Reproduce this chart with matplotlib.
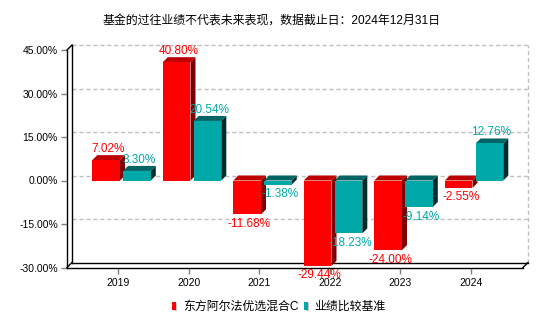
import matplotlib
matplotlib.use("Agg")
import matplotlib.pyplot as plt
from matplotlib.patches import Polygon, Rectangle

plt.rcParams['font.family'] = ['Liberation Sans', 'Noto Sans CJK SC', 'DejaVu Sans']

title = "基金的过往业绩不代表未来表现，数据截止日：2024年12月31日"
categories = ["2019", "2020", "2021", "2022", "2023", "2024"]
fund_name = "东方阿尔法优选混合C"
bench_name = "业绩比较基准"
fund_values = [7.02, 40.80, -11.68, -29.44, -24.00, -2.55]
bench_values = [3.30, 20.54, -1.38, -18.23, -9.14, 12.76]
yticks = [45, 30, 15, 0, -15, -30]
ytick_labels = ["45.00%", "30.00%", "15.00%", "0.00%", "-15.00%", "-30.00%"]

RED = ("#FF0000", "#BE0000", "#7F0000")
TEAL = ("#00A8A8", "#006464", "#002C2C")

fig = plt.figure(figsize=(5.6, 3.3), dpi=100)
W, H = 560, 330
L, R, T, B = 67, 523, 50, 267.5
ax = fig.add_axes([L / W, (H - B) / H, (R - L) / W, (B - T) / H])
ymin, ymax = -30, 45
spacing = 70.5
x0 = -(118.3 - L) / spacing
x1 = x0 + (R - L) / spacing
ax.set_xlim(x0, x1)
ax.set_ylim(ymin, ymax)
for s in ax.spines.values():
    s.set_visible(False)

ppy = (B - T) / (ymax - ymin)
dx = 5 / spacing
dy = 5 / ppy

# back wall grid
for v in yticks[:-1]:
    ax.plot([x0 + dx, x1 + dx], [v + dy, v + dy], color="#C0C0C0", lw=1,
            ls=(0, (3, 2)), clip_on=False, zorder=1)
ax.plot([x1 + dx, x1 + dx], [ymin + dy, ymax + dy], color="#C0C0C0", lw=1,
        ls=(0, (3, 2)), clip_on=False, zorder=1)
# frame lines
k = dict(color="black", lw=1, clip_on=False, zorder=2)
ax.plot([x0, x0], [ymin, ymax], **k)
ax.plot([x0 + dx, x0 + dx], [ymin + dy, ymax + dy], **k)
ax.plot([x0, x0 + dx], [ymax, ymax + dy], **k)
ax.plot([x0, x1], [ymin, ymin], **k)
ax.plot([x0 + dx, x1 + dx], [ymin + dy, ymin + dy], **k)
ax.plot([x0, x0 + dx], [ymin, ymin + dy], **k)
ax.plot([x1, x1 + dx], [ymin, ymin + dy], **k)


def bar3d(x_left, x_right, v, cols):
    front, top, side = cols
    if v >= 0:
        ytop = v
        lo, hi = 0, v
    else:
        ytop = 0
        lo, hi = v, 0
    ax.add_patch(Polygon([(x_right, lo), (x_right, hi), (x_right + dx, hi + dy),
                          (x_right + dx, lo + dy)], closed=True, facecolor=side,
                         edgecolor="none", zorder=3, clip_on=False))
    ax.add_patch(Polygon([(x_left, ytop), (x_right, ytop), (x_right + dx, ytop + dy),
                          (x_left + dx, ytop + dy)], closed=True, facecolor=top,
                         edgecolor="none", zorder=3, clip_on=False))
    ax.add_patch(Rectangle((x_left, lo), x_right - x_left, hi - lo, facecolor=front,
                           edgecolor="none", zorder=3, clip_on=False))


def label(xc, v, color):
    if v >= 0:
        off = 8
    else:
        off = -12.5
    ax.annotate(f"{v:.2f}%", xy=(xc, v), xytext=(2, off), textcoords="offset pixels",
                ha="center", va="baseline", fontsize=8.5, color=color, zorder=5,
                annotation_clip=False)


for i, (fv, bv) in enumerate(zip(fund_values, bench_values)):
    rl, rr = i - 0.369, i + 0.024
    tl, tr = i + 0.068, i + 0.461
    bar3d(rl, rr, fv, RED)
    bar3d(tl, tr, bv, TEAL)

for i, (fv, bv) in enumerate(zip(fund_values, bench_values)):
    label((i - 0.369 + i + 0.024) / 2, fv, "#FF0000")
    label((i + 0.068 + i + 0.461) / 2, bv, "#00A8A8")

ax.set_yticks(yticks)
ax.set_yticklabels(ytick_labels)
ax.set_xticks(range(len(categories)))
ax.set_xticklabels(categories)
ax.tick_params(axis="y", length=4, width=1, color="#808080", pad=2.6, labelsize=7.5)
ax.tick_params(axis="x", length=4, width=1, color="#808080", pad=3.6, labelsize=7.5)

fig.text(272 / W, 1 - 21 / H, title, ha="center", va="center", fontsize=8.6,
         color="black")

# legend
def leg_item(xs, text, color):
    fig.patches.append(Rectangle(((xs + 1.5) / W, 1 - 311 / H), 3.5 / W, 8 / H,
                                 transform=fig.transFigure, facecolor="#C8C8C8",
                                 edgecolor="none"))
    fig.patches.append(Rectangle((xs / W, 1 - 309.5 / H), 3.5 / W, 7.5 / H,
                                 transform=fig.transFigure, facecolor=color,
                                 edgecolor="none"))
    fig.text((xs + 10.5) / W, 1 - 307 / H, text, ha="left", va="center",
             fontsize=8.6, color="black")

leg_item(172.3, fund_name, "#FF0000")
leg_item(304, bench_name, "#00A8A8")

fig.savefig("out.png", dpi=100)
